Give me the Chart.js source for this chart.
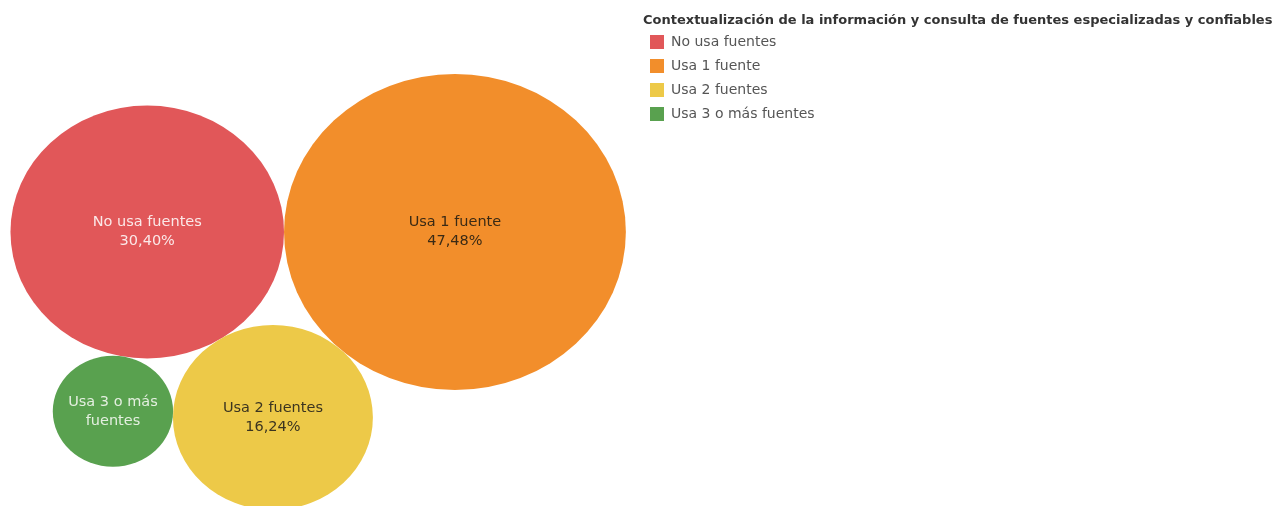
<!DOCTYPE html>
<html>
<head>
<meta charset="utf-8">
<script src="https://cdn.jsdelivr.net/npm/chart.js@4"></script>
<style>
  html, body { margin: 0; padding: 0; background: #fff; }
</style>
</head>
<body>
<canvas id="bubbleChart" width="1274" height="506"></canvas>
<script>
// Datos: categorías y porcentajes
const categorias = ['No usa fuentes', 'Usa 1 fuente', 'Usa 2 fuentes', 'Usa 3 o más fuentes'];
const porcentajes = [30.40, 47.48, 16.24, 5.88];
const colores = ['#E15759', '#F28E2B', '#EDC948', '#59A14F'];
const coloresTexto = ['#fbe8e8', '#3a2a15', '#3b3420', '#e4efe0'];

const fuente = "'DejaVu Sans', sans-serif";
const tituloLeyenda = 'Contextualización de la información y consulta de fuentes especializadas y confiables';
const anchoLeyenda = 634;

// Empaquetado simple de burbujas: radio proporcional a la raíz del valor
function empaquetar(radios) {
  const orden = radios.map((r, i) => i).sort((a, b) => radios[b] - radios[a]);
  const pos = [];
  orden.forEach((idx, k) => {
    const r = radios[idx];
    if (k === 0) { pos[idx] = { x: 0, y: 0 }; return; }
    if (k === 1) { pos[idx] = { x: -(radios[orden[0]] + r), y: 0 }; return; }
    const a = pos[orden[k - 2]], ra = radios[orden[k - 2]];
    const b = pos[orden[k - 1]], rb = radios[orden[k - 1]];
    const dx = b.x - a.x, dy = b.y - a.y, D = Math.hypot(dx, dy);
    const da = ra + r, db = rb + r;
    const t = (da * da - db * db + D * D) / (2 * D);
    const h = Math.sqrt(Math.max(0, da * da - t * t));
    const ux = dx / D, uy = dy / D;
    const px = a.x + t * ux, py = a.y + t * uy;
    const c1 = { x: px - h * uy, y: py + h * ux };
    const c2 = { x: px + h * uy, y: py - h * ux };
    let elegido;
    if (k === 2) {
      elegido = c1.y < c2.y ? c1 : c2;
    } else {
      const ref = pos[orden[k - 3]];
      elegido = Math.hypot(c1.x - ref.x, c1.y - ref.y) > Math.hypot(c2.x - ref.x, c2.y - ref.y) ? c1 : c2;
    }
    pos[idx] = elegido;
  });
  return pos;
}

const radios = porcentajes.map(v => Math.sqrt(v));
const posiciones = empaquetar(radios);

// Leyenda más ancha para que quepa el título, y título un poco desplazado
const ajusteLeyenda = {
  id: 'ajusteLeyenda',
  beforeLayout(chart) {
    const leg = chart.legend;
    if (leg && !leg._ajustada) {
      const fitOrig = leg.fit;
      leg.fit = function () {
        fitOrig.call(this);
        this.width = Math.max(this.width, anchoLeyenda);
      };
      const tituloOrig = leg.drawTitle;
      leg.drawTitle = function () {
        this.left += 3;
        tituloOrig.call(this);
        this.left -= 3;
      };
      leg._ajustada = true;
    }
  }
};

// Dibuja las burbujas como elipses usando las escalas del gráfico
const elipses = {
  id: 'elipses',
  afterDatasetsDraw(chart) {
    const { ctx, scales: { x, y } } = chart;
    chart.data.datasets.forEach((ds, i) => {
      const el = chart.getDatasetMeta(i).data[0];
      const p = ds.data[0];
      const rx = Math.abs(x.getPixelForValue(p.x + p.radio) - el.x);
      const ry = Math.abs(y.getPixelForValue(p.y + p.radio) - el.y);
      ctx.save();
      ctx.fillStyle = ds.backgroundColor;
      ctx.beginPath();
      ctx.ellipse(el.x, el.y, rx, ry, 0, 0, Math.PI * 2);
      ctx.fill();
      ctx.restore();
    });
    // etiquetas
    chart.data.datasets.forEach((ds, i) => {
      const el = chart.getDatasetMeta(i).data[0];
      const p = ds.data[0];
      const rx = Math.abs(x.getPixelForValue(p.x + p.radio) - el.x);
      let lineas;
      if (rx < 80) {
        const palabras = ds.label.split(' ');
        lineas = [palabras.slice(0, 4).join(' '), palabras.slice(4).join(' ')];
      } else {
        lineas = [ds.label, p.v.toFixed(2).replace('.', ',') + '%'];
      }
      ctx.save();
      ctx.font = '14.5px ' + fuente;
      ctx.fillStyle = coloresTexto[i];
      ctx.textAlign = 'center';
      ctx.textBaseline = 'middle';
      const alto = 19;
      lineas.forEach((l, j) => {
        ctx.fillText(l, el.x, el.y + (j - (lineas.length - 1) / 2) * alto);
      });
      ctx.restore();
    });
  }
};

const bubbleChart = new Chart(document.getElementById('bubbleChart'), {
  type: 'bubble',
  data: {
    datasets: categorias.map((c, i) => ({
      label: c,
      data: [{ x: posiciones[i].x, y: posiciones[i].y, r: 0, radio: radios[i], v: porcentajes[i] }],
      backgroundColor: colores[i],
      borderWidth: 0,
    }))
  },
  options: {
    responsive: false,
    animation: false,
    plugins: {
      tooltip: { enabled: false },
      legend: {
        position: 'right',
        align: 'start',
        title: {
          display: true,
          text: tituloLeyenda,
          position: 'start',
          color: '#333',
          font: { family: fuente, size: 13, weight: 'bold', lineHeight: 1 },
          padding: { top: 14, bottom: -2 },
        },
        labels: {
          boxWidth: 14,
          boxHeight: 14,
          padding: 10,
          color: '#555',
          font: { family: fuente, size: 14 },
        },
      },
    },
    scales: {
      x: { type: 'linear', display: false, min: -18.34, max: 7.46 },
      y: { type: 'linear', display: false, min: -11.95, max: 10.12 },
    }
  },
  plugins: [ajusteLeyenda, elipses]
});
</script>
</body>
</html>
